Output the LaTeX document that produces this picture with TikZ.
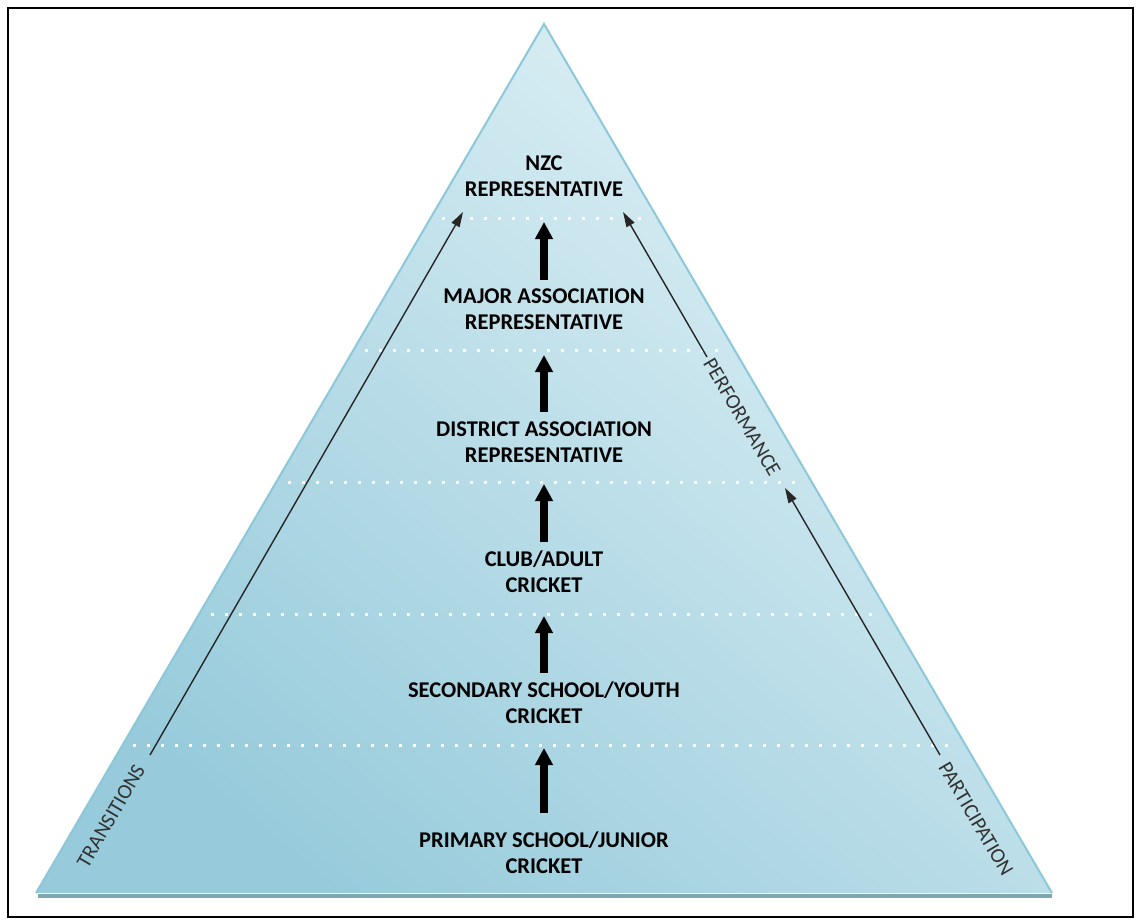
\documentclass[tikz,border=0pt]{standalone}
\usepackage{fontspec}
\setmainfont{Carlito}
\usetikzlibrary{arrows.meta}
\definecolor{edgeblue}{HTML}{8CC8D9}
\definecolor{darkfill}{HTML}{97CBDB}
\definecolor{lightfill}{HTML}{E0F1F6}
\definecolor{baseshadow}{HTML}{7FA6B3}
\definecolor{sidegray}{HTML}{333333}
\begin{document}
\begin{tikzpicture}[x=1pt,y=-1pt,
  level/.style={font=\bfseries\fontsize{22.5}{26}\selectfont, align=center, text=black},
  side/.style={font=\fontsize{21}{24}\selectfont, text=sidegray, inner sep=0pt},
  bigarrow/.style={line width=8pt, -{Triangle[length=17pt,width=17pt]}},
  thinarrow/.style={line width=1.4pt, draw=black!85, -{Triangle[length=15pt,width=9pt]}},
  dots/.style={white, line width=3pt, dash pattern=on 3pt off 11pt}]
\useasboundingbox (0,0) rectangle (1141,919);
\draw[line width=2pt] (8,8) rectangle (1133,917);
% pyramid
\coordinate (apex) at (544,24);
\coordinate (bl) at (36,893);
\coordinate (br) at (1052,893);
\draw[baseshadow, line width=4pt] (38,896) -- (1052,896);
\shade[bottom color=darkfill, top color=lightfill, shading angle=-40] (apex) -- (bl) -- (br) -- cycle;
\draw[edgeblue, line width=2pt] (bl) -- (apex) -- (br);
% dotted separators
\draw[dots] (442,218) -- (648,218);
\draw[dots] (365,350) -- (726,350);
\draw[dots] (288,482) -- (803,482);
\draw[dots] (211,614) -- (880,614);
\draw[dots] (133,745) -- (957,745);
% levels
\node[level] (nzc) at (544,176.5) {NZC\\REPRESENTATIVE};
\node[level] (major) at (544,309.5) {MAJOR ASSOCIATION\\REPRESENTATIVE};
\node[level] (district) at (544,442) {DISTRICT ASSOCIATION\\REPRESENTATIVE};
\node[level] (club) at (544,572) {CLUB/ADULT\\CRICKET};
\node[level] (secondary) at (544,703) {SECONDARY SCHOOL/YOUTH\\CRICKET};
\node[level] (primary) at (544,853) {PRIMARY SCHOOL/JUNIOR\\CRICKET};
% thick arrows
\coordinate (a1s) at (544,280); \coordinate (a1e) at (544,222);
\coordinate (a2s) at (544,412); \coordinate (a2e) at (544,355);
\coordinate (a3s) at (544,542); \coordinate (a3e) at (544,484);
\coordinate (a4s) at (544,673); \coordinate (a4e) at (544,616);
\coordinate (a5s) at (544,813); \coordinate (a5e) at (544,748);
\draw[bigarrow] (a1s) -- (a1e);
\draw[bigarrow] (a2s) -- (a2e);
\draw[bigarrow] (a3s) -- (a3e);
\draw[bigarrow] (a4s) -- (a4e);
\draw[bigarrow] (a5s) -- (a5e);
% side labels
\node[side, rotate=59.7] (trans) at (111,816) {TRANSITIONS};
\node[side, rotate=-59.6] (perf) at (742,417) {PERFORMANCE};
\node[side, rotate=-59.6] (part) at (976,819) {PARTICIPATION};
% thin arrows
\coordinate (lt) at (150,755);
\coordinate (lh) at (463,212);
\draw[thinarrow] (lt) -- (lh);
\coordinate (rt) at (940,755);
\coordinate (rh) at (785,488);
\draw[thinarrow] (rt) -- (rh);
\coordinate (rt2) at (707,357);
\coordinate (rh2) at (623,212);
\draw[thinarrow] (rt2) -- (rh2);
\end{tikzpicture}
\end{document}
